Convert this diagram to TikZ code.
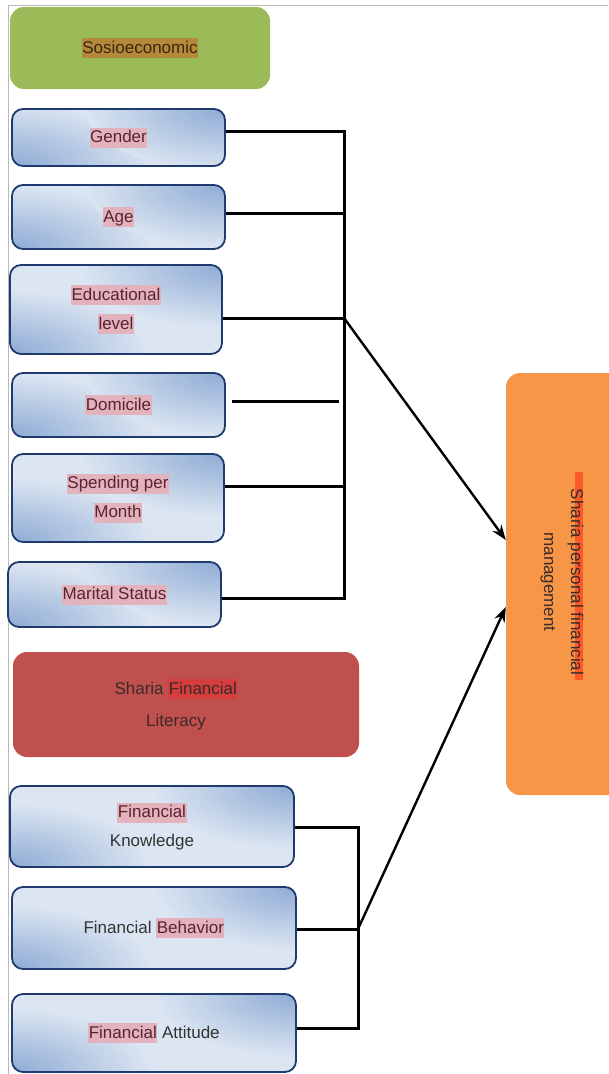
\documentclass[tikz,border=0pt]{standalone}
\usepackage{fontspec}
\setmainfont{Liberation Sans}
\usetikzlibrary{arrows.meta}
\definecolor{socgreen}{HTML}{9BBB59}
\definecolor{litred}{HTML}{C0504D}
\definecolor{mgmtorange}{HTML}{F79646}
\definecolor{boxnavy}{HTML}{1F3A6E}
\definecolor{boxlight}{HTML}{DCE6F2}
\definecolor{boxdark}{HTML}{90ACD5}
\definecolor{hlpink}{HTML}{E3B3BD}
\definecolor{hlbrown}{HTML}{B4893A}
\definecolor{hlred}{HTML}{D63E3E}
\definecolor{hlorange}{HTML}{FA5A2A}
\definecolor{inkred}{HTML}{5A2330}
\definecolor{inkdark}{HTML}{3A2A2A}
\newcommand{\hlword}[2]{{\setlength{\fboxsep}{0.5pt}\colorbox{#1}{\rule[-4.5pt]{0pt}{19pt}#2}}}
\newcommand{\hlstrip}[1]{\hspace*{-17pt}\rlap{\color{hlorange}\rule[4pt]{208pt}{8pt}}\hspace*{17pt}#1}
\newcommand{\glow}[1]{%
  \foreach \k [evaluate=\k as \pct using 100*\k/24, evaluate=\k as \sc using 1-(\k-1)/24] in {1,...,24}
    \fill[boxdark!\pct!boxlight] (#1) ellipse [x radius=140*\sc, y radius=62*\sc];}
\begin{document}
\begin{tikzpicture}[x=1pt,y=-1pt,>={Stealth[length=15pt,width=11pt]},
  every node/.style={font=\fontsize{17}{29}\selectfont,align=center,inner sep=0pt},
  factor/.style={draw=boxnavy,line width=1.8pt,rounded corners=11pt,text=inkred,fill=boxlight,
    path picture={\glow{path picture bounding box.south west}\glow{path picture bounding box.north east}}},
  group/.style={rounded corners=14pt,text=inkdark},
  conn/.style={line width=3pt}]
  \useasboundingbox (0,0) rectangle (608,1074);
  \draw[gray!55] (8,1074) -- (8,5) -- (608,5);
  \node[group,fill=socgreen,minimum width=260pt,minimum height=82pt] (socio) at (140,48)
       {\textcolor{black!70!brown}{\hlword{hlbrown}{Sosioeconomic}}};
  \node[factor,minimum width=213pt,minimum height=57pt] (gender) at (118.5,137.5) {\hlword{hlpink}{Gender}};
  \node[factor,minimum width=213pt,minimum height=64pt] (age) at (118.5,217) {\hlword{hlpink}{Age}};
  \node[factor,minimum width=212pt,minimum height=89pt] (edu) at (116,309.5)
       {\hlword{hlpink}{Educational}\\\hlword{hlpink}{level}};
  \node[factor,minimum width=213pt,minimum height=64pt] (dom) at (118.5,405) {\hlword{hlpink}{Domicile}};
  \node[factor,minimum width=212pt,minimum height=88pt] (spend) at (118,498)
       {\hlword{hlpink}{Spending per}\\\hlword{hlpink}{Month}};
  \node[factor,minimum width=213pt,minimum height=65pt] (marital) at (114.5,594.5) {\hlword{hlpink}{Marital Status}};
  \node[group,fill=litred,minimum width=346pt,minimum height=105pt,font=\fontsize{17}{32}\selectfont]
       (literacy) at (186,704.5)
       {Sharia \hlword{hlred}{Financial}\hspace*{20pt}\\Literacy\hspace*{20pt}};
  \node[factor,minimum width=284pt,minimum height=81pt] (know) at (152,826.5)
       {\hlword{hlpink}{Financial}\\\textcolor{black!80}{Knowledge}};
  \node[factor,minimum width=284pt,minimum height=82pt] (behav) at (154,928)
       {\textcolor{black!80}{Financial} \hlword{hlpink}{Behavior}};
  \node[factor,minimum width=284pt,minimum height=78pt] (att) at (154,1033)
       {\hlword{hlpink}{Financial} \textcolor{black!80}{Attitude}};
  \node[group,fill=mgmtorange,minimum width=132pt,minimum height=422pt] (mgmt) at (572,584) {};
  \node[rotate=-90,text=inkdark,font=\fontsize{17}{27}\selectfont] (mgmttext) at (562,582)
       {\hlstrip{Sharia personal financial}\\management};
  \coordinate (ttop) at (344,131);
  \coordinate (tmid) at (344,318);
  \coordinate (tbot) at (344,598);
  \coordinate (domend) at (339,401);
  \coordinate (btop) at (358,827);
  \coordinate (bmid) at (358,929);
  \coordinate (bbot) at (358,1028);
  \draw[conn] ([yshift=6.5pt]gender.east) -- (ttop) -- (tbot) -- (marital.east |- tbot);
  \draw[conn] (age.east |- 0,213) -- (ttop |- 0,213);
  \draw[conn] (edu.east |- tmid) -- (tmid);
  \draw[conn] ([xshift=6pt,yshift=4pt]dom.east) -- (domend);
  \draw[conn] (spend.east |- 0,486) -- (ttop |- 0,486);
  \draw[conn] (know.east |- btop) -- (btop) -- (bbot) -- (att.east |- bbot);
  \draw[conn] (behav.east |- bmid) -- (bmid);
  \draw[conn,line width=2.4pt,->] (tmid) -- ([yshift=44pt]mgmt.west);
  \draw[conn,line width=2.4pt,->] (bmid) -- ([yshift=-23pt]mgmt.west);
\end{tikzpicture}
\end{document}
